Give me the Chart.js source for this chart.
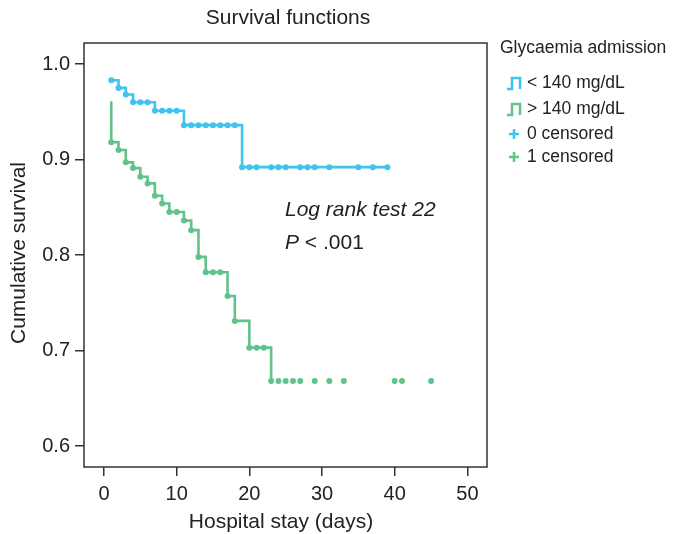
<!DOCTYPE html>
<html>
<head>
<meta charset="utf-8">
<script src="https://cdn.jsdelivr.net/npm/chart.js@4.4.1/dist/chart.umd.min.js"></script>
<style>
  html, body { margin: 0; padding: 0; background: #fff; }
  #grafico { width: 678px; height: 534px; }
</style>
</head>
<body>
<div id="grafico"><canvas id="chartSobrevida" width="678" height="534"></canvas></div>
<script>

// Curva < 140 mg/dL (dias do evento e sobrevida acumulada)
var diasBaixa = [1, 2, 3, 4, 7, 11, 19, 39];
var sobrevidaBaixa = [0.983, 0.975, 0.968, 0.960, 0.951, 0.936, 0.892, 0.892];
var censuraBaixa = [1, 2, 3, 4, 5, 6, 7, 8, 9, 10, 11, 12, 13, 14, 15, 16, 17, 18,
    19, 20, 21, 23, 24, 25, 27, 28, 29, 31, 35, 37, 39];

// Curva > 140 mg/dL
var diasAlta = [1, 1, 2, 3, 4, 5, 6, 7, 8, 9, 11, 12, 13, 14, 17, 18, 20, 23];
var sobrevidaAlta = [0.961, 0.918, 0.910, 0.897, 0.891, 0.882, 0.875, 0.862, 0.854,
    0.845, 0.836, 0.826, 0.798, 0.782, 0.757, 0.731, 0.703, 0.668];
var censuraAlta = [1, 2, 3, 4, 5, 6, 7, 8, 9, 10, 11, 12, 13, 14, 15, 16, 17, 18,
    20, 21, 22, 23, 24, 25, 26, 27, 29, 31, 33, 40, 41, 45];

// Rótulos dos eixos
var ticksX = [0, 10, 20, 30, 40, 50];
var ticksY = [0.6, 0.7, 0.8, 0.9, 1.0];

var legendaTitulo = "Glycaemia admission";
var legendaCurvas = ["< 140 mg/dL", "> 140 mg/dL"];
var legendaCensura = ["0 censored", "1 censored"];

var azul = "#3fc4ef";
var verde = "#62c28c";
var fonte = "'Liberation Sans', Arial, sans-serif";

function pontos(dias, valores) {
    var lista = [];
    for (var i = 0; i < dias.length; i++) {
        lista.push({ x: dias[i], y: valores[i] });
    }
    return lista;
}

// nivel da curva no dia t (ultimo evento <= t)
function nivel(dias, valores, t) {
    var v = valores[0];
    for (var i = 0; i < dias.length; i++) {
        if (dias[i] <= t) v = valores[i];
    }
    return v;
}

function censuras(lista, dias, valores) {
    return lista.map(function (t) {
        return { x: t, y: nivel(dias, valores, t) };
    });
}

// Plugin que desenha moldura, titulos, texto do teste e legenda
var extras = {
    id: "extras",
    afterDraw: function (chart) {
        var ctx = chart.ctx;
        var a = chart.chartArea;
        ctx.save();
        ctx.strokeStyle = "#333";
        ctx.lineWidth = 1.5;
        ctx.strokeRect(a.left, a.top, a.right - a.left, a.bottom - a.top);

        ctx.fillStyle = "#222";
        ctx.textBaseline = "middle";
        ctx.textAlign = "center";
        ctx.font = "21px " + fonte;
        ctx.fillText("Survival functions", 288, 18);
        ctx.fillText("Hospital stay (days)", 281, 522);

        ctx.save();
        ctx.translate(19, 253);
        ctx.rotate(-Math.PI / 2);
        ctx.fillText("Cumulative survival", 0, 0);
        ctx.restore();

        // texto do teste log rank
        ctx.textAlign = "left";
        ctx.font = "italic 21px " + fonte;
        ctx.fillText("Log rank test 22", 285, 210);
        ctx.fillText("P", 285, 243);
        var w = ctx.measureText("P").width;
        ctx.font = "21px " + fonte;
        ctx.fillText(" < .001", 285 + w, 243);

        // legenda
        ctx.font = "17.5px " + fonte;
        ctx.fillText(legendaTitulo, 500, 48);
        var cores = [azul, verde];
        var ys = [83, 109];
        ctx.lineWidth = 2.5;
        for (var i = 0; i < 2; i++) {
            var y = ys[i];
            ctx.strokeStyle = cores[i];
            ctx.beginPath();
            ctx.moveTo(507, y + 6);
            ctx.lineTo(512, y + 6);
            ctx.lineTo(512, y - 5);
            ctx.lineTo(520, y - 5);
            ctx.lineTo(520, y + 6);
            ctx.stroke();
            ctx.fillText(legendaCurvas[i], 527, y);
        }
        var yc = [134, 157];
        for (var j = 0; j < 2; j++) {
            var yy = yc[j];
            ctx.strokeStyle = cores[j];
            ctx.beginPath();
            ctx.moveTo(509, yy);
            ctx.lineTo(519, yy);
            ctx.moveTo(514, yy - 5);
            ctx.lineTo(514, yy + 5);
            ctx.stroke();
            ctx.fillText(legendaCensura[j], 527, yy);
        }
        ctx.restore();
    }
};

var config = {
    type: "scatter",
    data: {
        datasets: [
            {
                label: "censura baixa",
                data: censuras(censuraBaixa, diasBaixa, sobrevidaBaixa),
                backgroundColor: azul,
                borderColor: azul,
                pointRadius: 3,
                borderWidth: 0,
                showLine: false,
                order: 1
            },
            {
                label: "censura alta",
                data: censuras(censuraAlta, diasAlta, sobrevidaAlta),
                backgroundColor: verde,
                borderColor: verde,
                pointRadius: 3,
                borderWidth: 0,
                showLine: false,
                order: 2
            },
            {
                label: legendaCurvas[0],
                data: pontos(diasBaixa, sobrevidaBaixa),
                borderColor: azul,
                borderWidth: 2.6,
                pointRadius: 0,
                showLine: true,
                stepped: "before",
                order: 3
            },
            {
                label: legendaCurvas[1],
                data: pontos(diasAlta, sobrevidaAlta),
                borderColor: verde,
                borderWidth: 2.6,
                pointRadius: 0,
                showLine: true,
                stepped: "before",
                order: 4
            }
        ]
    },
    options: {
        responsive: false,
        animation: false,
        events: [],
        layout: { padding: { top: 43, right: 191, left: 0, bottom: 0 } },
        plugins: {
            legend: { display: false },
            title: { display: false },
            tooltip: { enabled: false }
        },
        scales: {
            x: {
                type: "linear",
                min: -2.75,
                max: 52.7,
                afterFit: function (scale) { scale.height = 67; },
                afterBuildTicks: function (scale) {
                    scale.ticks = ticksX.map(function (v) { return { value: v }; });
                },
                border: { display: false },
                grid: { drawOnChartArea: false, drawTicks: true, tickLength: 9, color: "#333", lineWidth: 1.5 },
                ticks: { color: "#222", font: { size: 20, family: fonte }, padding: 6, maxRotation: 0 }
            },
            y: {
                type: "linear",
                min: 0.578,
                max: 1.022,
                afterFit: function (scale) { scale.width = 84; },
                afterBuildTicks: function (scale) {
                    scale.ticks = ticksY.map(function (v) { return { value: v }; });
                },
                border: { display: false },
                grid: { drawOnChartArea: false, drawTicks: true, tickLength: 9, color: "#333", lineWidth: 1.5 },
                ticks: {
                    color: "#222",
                    font: { size: 20, family: fonte },
                    padding: 5,
                    callback: function (v) { return v.toFixed(1); }
                }
            }
        }
    },
    plugins: [extras]
};

var grafico = new Chart(document.getElementById("chartSobrevida"), config);
</script>
</body>
</html>
